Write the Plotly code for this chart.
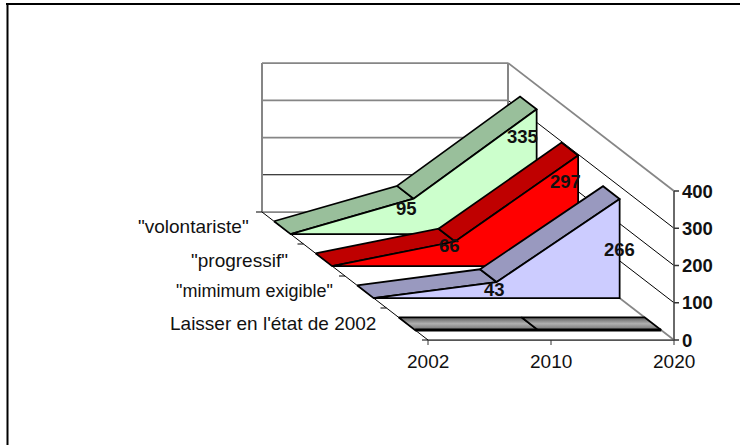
import plotly.graph_objects as go

# ---- data ----
years = ["2002", "2010", "2020"]
series_names = ["Laisser en l'état de 2002", '"mimimum exigible"', '"progressif"', '"volontariste"']
laisser = [0, 0, 0]
minimum = [0, 43, 266]
progressif = [0, 66, 297]
volontariste = [0, 95, 335]
value_ticks = [0, 100, 200, 300, 400]

all_values = [laisser, minimum, progressif, volontariste]

# ---- style ----
front_colors = [None, "#CCCCFF", "#FF0000", "#CCFFCC"]
band_colors = [None, "#9999BF", "#BF0000", "#99BF9B"]
GRAY = "#868686"
BLACK = "#000000"
FONT = "Liberation Sans"

# oblique projection of the Excel 3-D box
X0, Y0, XW, DX, DY, VH, VMAX = 428.0, 340.0, 246.0, 166.0, 128.0, 149.0, 400.0
FRONT_GAP, BAND_D, STEP = 0.0775, 0.10, 0.25


def px(i, d):
    return X0 + XW * i / (len(years) - 1) - DX * d


def py(d, v):
    return Y0 - DY * d - VH * v / VMAX


fig = go.Figure()


def poly(points, fill=None, line=BLACK, width=1.75, gradient=None, close=True):
    pts = list(points) + ([points[0]] if close else [])
    kw = dict(
        x=[p[0] for p in pts], y=[p[1] for p in pts], mode="lines",
        line=dict(color=line, width=width), hoverinfo="skip", showlegend=False,
    )
    if gradient:
        kw.update(fill="toself", fillgradient=gradient)
    elif fill:
        kw.update(fill="toself", fillcolor=fill)
    fig.add_trace(go.Scatter(**kw))


n = len(years) - 1
# back wall and side wall grid lines
for v in value_ticks:
    col = BLACK if v in (100,) else GRAY
    poly([(px(0, 1), py(1, v)), (px(n, 1), py(1, v))], line=col, width=1.75 if v != 100 else 1, close=False)
    if v > 0:
        poly([(px(n, 1), py(1, v)), (px(n, 0), py(0, v))],
             line=GRAY if v == 400 else BLACK, width=1.75 if v == 400 else 1, close=False)
poly([(px(0, 1), py(1, 0)), (px(0, 1), py(1, 400))], line=GRAY, width=2, close=False)
poly([(px(n, 1), py(1, 0)), (px(n, 1), py(1, 400))], line=GRAY, width=2, close=False)
poly([(px(n, 1), py(1, 0)), (px(n, 0), py(0, 0))], line=GRAY, width=1.75, close=False)

# floor edges, axes and ticks
poly([(px(0, 1), py(1, 0)), (px(0, 0), py(0, 0))], width=1, close=False)
poly([(px(0, 0), py(0, 0)), (px(n, 0), py(0, 0))], line="#555555", width=1.75, close=False)
poly([(px(n, 0), py(0, 0)), (px(n, 0), py(0, 400))], line="#555555", width=1.75, close=False)
for k in range(len(series_names) + 1):
    d = k * STEP
    poly([(px(0, d) - 6, py(d, 0)), (px(0, d), py(d, 0))], width=1, close=False)
for i in range(len(years)):
    poly([(px(i, 0), py(0, 0)), (px(i, 0), py(0, 0) + 5)], line="#333333", width=1, close=False)
for v in value_ticks:
    poly([(px(n, 0), py(0, v)), (px(n, 0) + 5, py(0, v))], line="#333333", width=1.5, close=False)

# series, back to front
for k in reversed(range(len(series_names))):
    vals = all_values[k]
    d0 = FRONT_GAP + k * STEP
    d1 = d0 + BAND_D
    if k == 0:
        for i in range(n):
            poly([(px(i, d1), py(d1, vals[i])), (px(i + 1, d1), py(d1, vals[i + 1])),
                  (px(i + 1, d0), py(d0, vals[i + 1])), (px(i, d0), py(d0, vals[i]))],
                 gradient=dict(type="vertical", colorscale=[[0, "#6E6E6E"], [0.5, "#B0B0B0"], [1, "#5A5A5A"]]))
        poly([(px(0, d0), py(d0, 0)), (px(n, d0), py(d0, 0))], width=3, close=False)
        continue
    for i in range(n):
        poly([(px(i, d1), py(d1, vals[i])), (px(i + 1, d1), py(d1, vals[i + 1])),
              (px(i + 1, d0), py(d0, vals[i + 1])), (px(i, d0), py(d0, vals[i]))],
             fill=band_colors[k])
    poly([(px(i, d0), py(d0, vals[i])) for i in range(n + 1)] + [(px(n, d0), py(d0, 0)), (px(0, d0), py(d0, 0))],
         fill=front_colors[k])

# ---- texts ----
ann = []


def text(x, y, s, size=19, bold=False, xanchor="center"):
    ann.append(dict(x=x, y=y, xref="x", yref="y", text=f"<b>{s}</b>" if bold else s, showarrow=False,
                    xanchor=xanchor, yanchor="middle",
                    font=dict(family=FONT, size=size, color="#111111"), borderpad=0))


for i, y_label in enumerate(years):
    text(px(i, 0), py(0, 0) + 21, y_label)
for v in value_ticks:
    text(px(n, 0) + 7, py(0, v), str(v), size=18.5, bold=True, xanchor="left")
name_sizes = [19, 18, 19, 19]
name_dx = [-10, -12, -15, -13]
name_dy = [-1, -1, 0, -2]
for k, name in enumerate(series_names):
    d = (k + 0.5) * STEP
    text(px(0, d) - 20 + name_dx[k], py(d, 0) + name_dy[k], name, size=name_sizes[k], xanchor="right")

# value labels: offset from the front top corner of each point
label_offsets = {(1, 1): (-2, 7), (1, 2): (0, 50), (2, 1): (-6, 4), (2, 2): (-13, 26),
                 (3, 1): (-7, 10), (3, 2): (-14, 27)}
for (k, i), (ox, oy) in label_offsets.items():
    d0 = FRONT_GAP + k * STEP
    v = all_values[k][i]
    text(px(i, d0) + ox, py(d0, v) + oy, str(v), size=18.5, bold=True)

fig.update_layout(
    width=740, height=445, margin=dict(l=0, r=0, t=0, b=0, pad=0),
    paper_bgcolor="white", plot_bgcolor="white", showlegend=False, annotations=ann,
    xaxis=dict(range=[0, 740], visible=False, fixedrange=True),
    yaxis=dict(range=[445, 0], visible=False, fixedrange=True),
    shapes=[
        dict(type="line", x0=6, x1=740, y0=4, y1=4, xref="x", yref="y", line=dict(color=BLACK, width=2)),
        dict(type="line", x0=7.5, x1=7.5, y0=4, y1=445, xref="x", yref="y", line=dict(color=BLACK, width=2)),
    ],
)
fig.write_html("out.html", config={"displayModeBar": False},
               post_script="document.body.style.margin='0';")
